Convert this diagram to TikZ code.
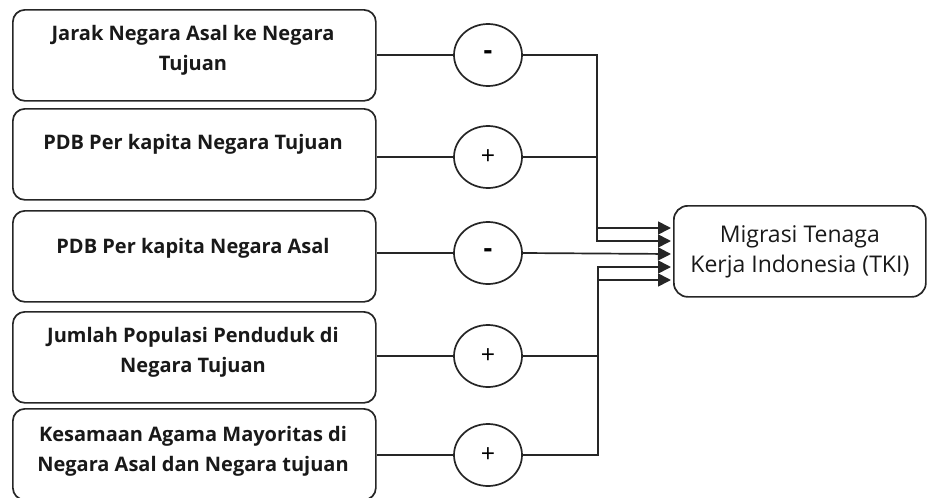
\documentclass[tikz,border=0pt]{standalone}
\usepackage{fontspec}
\setmainfont{Open Sans}
\usetikzlibrary{arrows.meta,shapes.geometric}
\begin{document}
\begin{tikzpicture}[x=1pt,y=-1pt,
  line width=1.7pt,
  factor/.style={draw=black!85,rounded corners=12pt,minimum width=363pt,minimum height=91pt,inner sep=0pt,anchor=north west},
  ftext/.style={font=\bfseries\fontsize{20}{30}\selectfont,align=center,text=black!90},
  sign/.style={draw=black!85,ellipse,minimum width=68pt,minimum height=62pt,inner sep=0pt,font=\fontsize{25}{25}\selectfont},
  minus/.style={font=\bfseries\fontsize{27}{27}\selectfont},
  target/.style={draw=black!85,rounded corners=14pt,minimum width=252pt,minimum height=91pt,inner sep=0pt,font=\fontsize{23}{30}\selectfont,align=center,anchor=north west,text=black!90},
  link/.style={draw=black!85},
  arr/.style={draw=black!85,-{Triangle[length=13pt,width=13pt]}}
]
\useasboundingbox (0,0) rectangle (935,498);
% left boxes
\node[factor] (f1) at (12,9) {};
\node[ftext] (t1) at (193,50) {Jarak Negara Asal ke Negara\\Tujuan};
\node[factor] (f2) at (12,108) {};
\node[ftext] (t2) at (193,144) {PDB Per kapita Negara Tujuan};
\node[factor] (f3) at (12,210) {};
\node[ftext] (t3) at (193,248) {PDB Per kapita Negara Asal};
\node[factor] (f4) at (12,311) {};
\node[ftext] (t4) at (193,352) {Jumlah Populasi Penduduk di\\Negara Tujuan};
\node[factor] (f5) at (12,408) {};
\node[ftext] (t5) at (193,451) {Kesamaan Agama Mayoritas di\\Negara Asal dan Negara tujuan};
% signs
\node[sign,minus] (s1) at (488,55) {-};
\node[sign] (s2) at (488,157) {+};
\node[sign,minus] (s3) at (488,253) {-};
\node[sign] (s4) at (488,356) {+};
\node[sign] (s5) at (488,455) {+};
% target
\node[target] (tg) at (673,205) {Migrasi Tenaga\\Kerja Indonesia (TKI)};
% arrow ends
\coordinate (e1) at (671,228);
\coordinate (e2) at (671,241);
\coordinate (e3) at (671,254);
\coordinate (e4) at (671,267);
\coordinate (e5) at (671,280);
% box to sign
\draw[link] (f1.east |- s1) -- (s1);
\draw[link] (f2.east |- s2) -- (s2);
\draw[link] (f3.east |- s3) -- (s3);
\draw[link] (f4.east |- s4) -- (s4);
\draw[link] (f5.east |- s5) -- (s5);
% sign to target
\draw[arr] (s1.east) -| (597,228) -- (e1);
\draw[arr] (s2.east) -| (597,241) -- (e2);
\draw[arr] (s3.east) -- (e3);
\draw[arr] (s4.east) -| (598,267) -- (e4);
\draw[arr] (s5.east) -| (598,280) -- (e5);
\end{tikzpicture}
\end{document}
